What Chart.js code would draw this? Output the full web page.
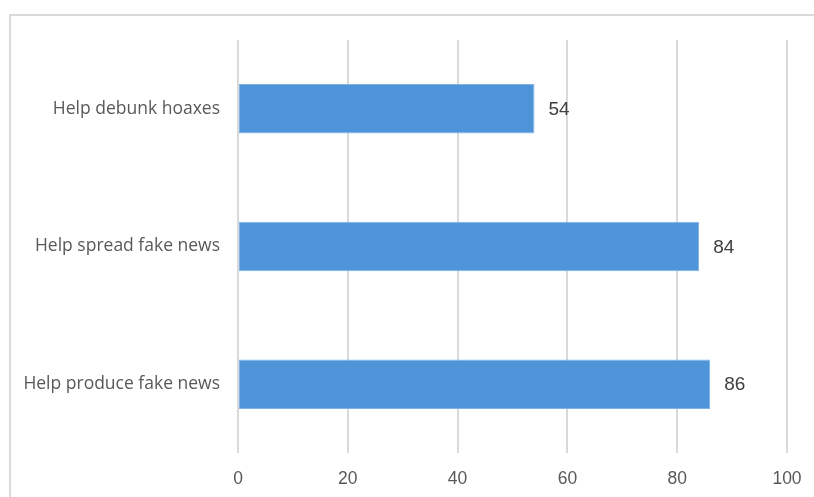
<!DOCTYPE html>
<html>
<head>
<meta charset="utf-8">
<script src="https://cdn.jsdelivr.net/npm/chart.js@4/dist/chart.umd.min.js"></script>
<style>
html,body{margin:0;padding:0;background:#fff;}
#wrap{position:relative;width:814px;height:497px;overflow:hidden;}
#frame{position:absolute;left:9px;top:14px;width:820px;height:500px;border-top:2px solid #d9d9d9;border-left:2px solid #d9d9d9;box-sizing:border-box;}
canvas{position:absolute;left:0;top:0;}
</style>
</head>
<body>
<div id="wrap">
<div id="frame"></div>
<canvas id="c" width="814" height="497"></canvas>
</div>
<script>
const categories = ["Help debunk hoaxes", "Help spread fake news", "Help produce fake news"];
const values = [54, 84, 86];
const xTicks = [0, 20, 40, 60, 80, 100];

const valueLabels = {
  id: 'valueLabels',
  afterDatasetsDraw(chart) {
    const ctx = chart.ctx;
    const meta = chart.getDatasetMeta(0);
    ctx.save();
    ctx.font = '19px "Liberation Sans", Arial, sans-serif';
    ctx.fillStyle = '#404040';
    ctx.textAlign = 'left';
    ctx.textBaseline = 'middle';
    meta.data.forEach((bar, i) => {
      ctx.fillText(String(values[i]), bar.x + 14, bar.y + 1);
    });
    ctx.restore();
  }
};

new Chart(document.getElementById('c'), {
  type: 'bar',
  data: {
    labels: categories,
    datasets: [{
      data: values,
      backgroundColor: '#4e94d9',
      borderColor: '#7fb2e6',
      borderWidth: 1,
      borderSkipped: false,
      barPercentage: 0.72,
      categoryPercentage: 0.5
    }]
  },
  options: {
    indexAxis: 'y',
    responsive: false,
    animation: false,
    layout: { padding: { left: 0, right: 27, top: 40, bottom: 0 } },
    plugins: { legend: { display: false }, tooltip: { enabled: false } },
    scales: {
      x: {
        min: 0, max: 100,
        afterBuildTicks(axis) { axis.ticks = xTicks.map(v => ({ value: v })); },
        afterFit(axis) { axis.height = 44; axis.paddingRight = 0; axis.paddingLeft = 0; },
        grid: { color: '#d9d9d9', lineWidth: 2, drawTicks: false },
        border: { display: false },
        ticks: { color: '#595959', font: { family: '"Liberation Sans", Arial, sans-serif', size: 17.5 }, padding: 16 }
      },
      y: {
        afterFit(axis) { axis.width = 238; },
        grid: { display: false, drawTicks: false },
        border: { display: false },
        ticks: { color: '#595959', font: { family: '"Open Sans", sans-serif', size: 17.5 }, padding: 18 }
      }
    }
  },
  plugins: [valueLabels]
});
</script>
</body>
</html>
